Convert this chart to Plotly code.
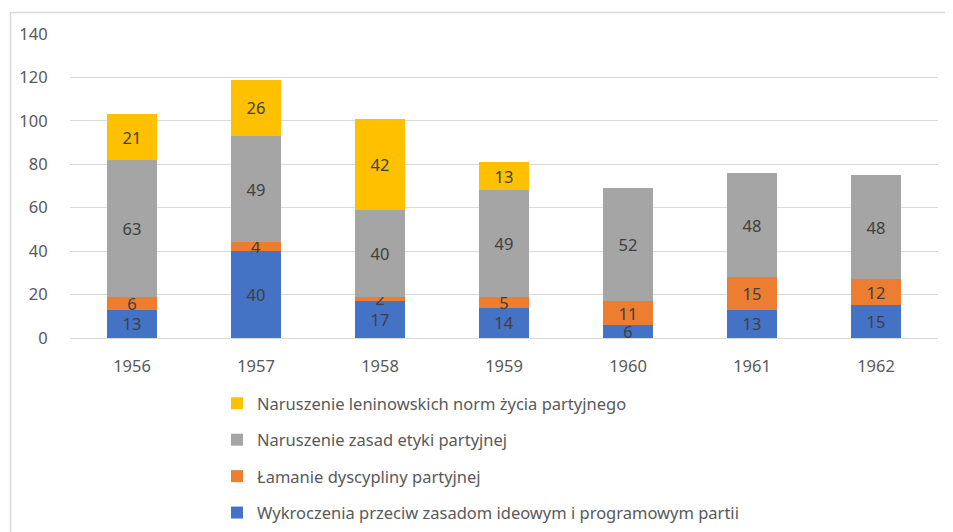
import plotly.graph_objects as go

years = ["1956", "1957", "1958", "1959", "1960", "1961", "1962"]
wykroczenia = [13, 40, 17, 14, 6, 13, 15]
lamanie = [6, 4, 2, 5, 11, 15, 12]
etyka = [63, 49, 40, 49, 52, 48, 48]
leninowskie = [21, 26, 42, 13, None, None, None]

series = [
    ("Wykroczenia przeciw zasadom ideowym i programowym partii", wykroczenia, "#4472C4", 4),
    ("Łamanie dyscypliny partyjnej", lamanie, "#ED7D31", 3),
    ("Naruszenie zasad etyki partyjnej", etyka, "#A5A5A5", 2),
    ("Naruszenie leninowskich norm życia partyjnego", leninowskie, "#FFC000", 1),
]

FONT = "Noto Sans"
FS = 16.5
fig = go.Figure()
for i, (name, vals, color, rank) in enumerate(series):
    fig.add_trace(go.Bar(
        x=years, y=vals, name=name, legendgroup=f"g{i}", legendrank=rank,
        marker=dict(color=color, line=dict(width=0)),
        text=[("" if v is None else str(v)) for v in vals],
        textposition="inside", insidetextanchor="middle", textangle=0,
        textfont=dict(color="#404040", size=FS, family=FONT),
        constraintext="none",
    ))

# page body has an 8px margin; figure is sized to fit the window inside it
OFF = 8
W, H = 953 - OFF, 532 - OFF
plot_l, plot_r, plot_t, plot_b = 70 - OFF, 938 - OFF, 34 - OFF, 338 - OFF
pw = plot_r - plot_l
ph = plot_b - plot_t

def px(x):  # page x -> paper
    return (x - OFF - plot_l) / pw

def py(y):  # page y -> paper
    return (plot_b - (y - OFF)) / ph

fig.update_layout(
    width=W, height=H,
    margin=dict(l=plot_l, r=W - plot_r, t=plot_t, b=H - plot_b, pad=0, autoexpand=False),
    barmode="stack", bargap=0.6,
    plot_bgcolor="white", paper_bgcolor="white",
    font=dict(family=FONT, color="#595959", size=FS),
    uniformtext=dict(minsize=FS, mode="show"),
    showlegend=True,
    legend=dict(
        orientation="v", traceorder="grouped", tracegroupgap=12,
        x=px(217), xanchor="left", y=py(386), yanchor="top",
        font=dict(size=FS, color="#595959", family=FONT),
        itemwidth=30, bgcolor="rgba(0,0,0,0)",
    ),
    xaxis=dict(
        showgrid=False, showline=False, ticks="outside", ticklen=13,
        tickcolor="rgba(0,0,0,0)", tickfont=dict(size=FS, color="#595959"),
        fixedrange=True,
    ),
    yaxis=dict(
        range=[0, 140], dtick=20, showgrid=True, gridcolor="#D9D9D9", gridwidth=1,
        zeroline=True, zerolinecolor="#D9D9D9", zerolinewidth=1,
        ticks="outside", ticklen=18, tickcolor="rgba(0,0,0,0)",
        tickfont=dict(size=FS, color="#595959"), showline=False,
    ),
    shapes=[dict(
        type="rect", xref="paper", yref="paper",
        x0=px(10.5), x1=px(975), y0=py(560), y1=py(12.5),
        line=dict(color="#D9D9D9", width=1.5), fillcolor="rgba(0,0,0,0)", layer="below",
    )],
)

fig.write_html("out.html")
